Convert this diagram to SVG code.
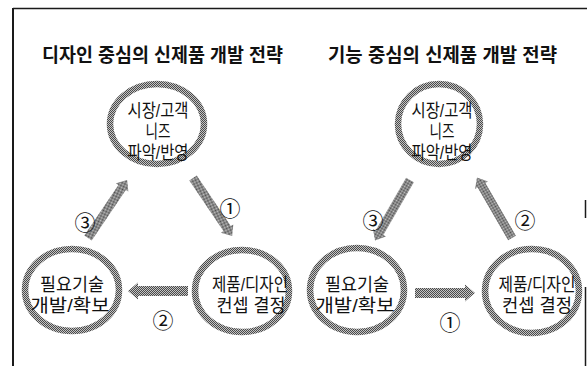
<svg xmlns="http://www.w3.org/2000/svg" xmlns:xlink="http://www.w3.org/1999/xlink" width="587" height="366" viewBox="0 0 587 366">
  <style>
    .ring { fill: none; stroke: url(#hatch); stroke-width: 6.5; }
    .arr { fill: url(#hatch); }
    .title { font-family: "Liberation Sans", "Noto Sans CJK KR", sans-serif; font-size: 19px; font-weight: bold; fill: #111; }
    .lbl { font-family: "Liberation Sans", "Noto Sans CJK KR", sans-serif; font-size: 18px; fill: #111; text-anchor: middle; }
    .num { font-family: "Noto Sans CJK KR", "DejaVu Sans", sans-serif; font-size: 21px; fill: #111; text-anchor: middle; }
    .frame { stroke: #1a1a1a; fill: none; }
  </style>
  <defs>
    <pattern id="hatch" width="2" height="2" patternUnits="userSpaceOnUse">
      <rect width="2" height="2" fill="#c4c4c4"/>
      <rect width="1" height="1" fill="#4a4a4a"/>
      <rect x="1" y="1" width="1" height="1" fill="#4a4a4a"/>
    </pattern>
    <path id="arrD" d="M0,-4.5 L61,-4.5 L61,-7.5 L70,0 L61,7.5 L61,4.5 L0,4.5 Z"/>
    <path id="arrH" d="M0,-5 L50,-5 L50,-8.5 L60,0 L50,8.5 L50,5 L0,5 Z"/>
  </defs>
  <rect width="587" height="366" fill="#ffffff"/>
  <g id="frame">
    <line class="frame" x1="13" y1="8.5" x2="587" y2="8.5" stroke-width="1.5"/>
    <line class="frame" x1="13" y1="8" x2="13" y2="366" stroke-width="2"/>
    <line class="frame" x1="585.5" y1="200" x2="585.5" y2="218" stroke-width="1.5"/>
    <line class="frame" x1="585.5" y1="287" x2="585.5" y2="366" stroke-width="1.5"/>
  </g>
  <g id="titles">
    <text class="title" x="42" y="62" textLength="241" lengthAdjust="spacingAndGlyphs">디자인 중심의 신제품 개발 전략</text>
    <text class="title" x="328" y="62" textLength="229" lengthAdjust="spacingAndGlyphs">기능 중심의 신제품 개발 전략</text>
  </g>
  <g id="connectors">
    <use href="#arrD" class="arr" transform="translate(193,178) rotate(56)"/>
    <use href="#arrH" class="arr" transform="translate(188,291) rotate(180)"/>
    <use href="#arrD" class="arr" transform="translate(88,238) rotate(-56)"/>
    <use href="#arrH" class="arr" transform="translate(415,293)"/>
    <use href="#arrD" class="arr" transform="translate(512,238) rotate(240)"/>
    <use href="#arrD" class="arr" transform="translate(410,180) rotate(120)"/>
    <text class="num" x="230" y="216">①</text>
    <text class="num" x="163" y="328">②</text>
    <text class="num" x="85" y="230">③</text>
    <text class="num" x="450" y="330">①</text>
    <text class="num" x="525" y="228">②</text>
    <text class="num" x="373" y="228">③</text>
  </g>
  <g id="L-market">
    <ellipse class="ring" cx="157" cy="124" rx="47" ry="40"/>
    <text class="lbl" x="158" y="117" textLength="61" lengthAdjust="spacingAndGlyphs">시장/고객</text>
    <text class="lbl" x="158" y="138" textLength="25" lengthAdjust="spacingAndGlyphs">니즈</text>
    <text class="lbl" x="158" y="159" textLength="61" lengthAdjust="spacingAndGlyphs">파악/반영</text>
  </g>
  <g id="L-tech">
    <ellipse class="ring" cx="72" cy="290" rx="47" ry="41"/>
    <text class="lbl" x="72" y="291" textLength="64" lengthAdjust="spacingAndGlyphs">필요기술</text>
    <text class="lbl" x="70" y="312" textLength="79" lengthAdjust="spacingAndGlyphs">개발/확보</text>
  </g>
  <g id="L-product">
    <ellipse class="ring" cx="242" cy="291" rx="47" ry="41"/>
    <text class="lbl" x="250" y="291" textLength="76" lengthAdjust="spacingAndGlyphs">제품/디자인</text>
    <text class="lbl" x="251" y="312" textLength="69" lengthAdjust="spacingAndGlyphs">컨셉 결정</text>
  </g>
  <g id="R-market">
    <ellipse class="ring" cx="439" cy="124" rx="41" ry="40"/>
    <text class="lbl" x="442" y="117" textLength="61" lengthAdjust="spacingAndGlyphs">시장/고객</text>
    <text class="lbl" x="442" y="138" textLength="25" lengthAdjust="spacingAndGlyphs">니즈</text>
    <text class="lbl" x="442" y="159" textLength="61" lengthAdjust="spacingAndGlyphs">파악/반영</text>
  </g>
  <g id="R-tech">
    <ellipse class="ring" cx="357" cy="290" rx="47" ry="42"/>
    <text class="lbl" x="357" y="291" textLength="64" lengthAdjust="spacingAndGlyphs">필요기술</text>
    <text class="lbl" x="355" y="312" textLength="79" lengthAdjust="spacingAndGlyphs">개발/확보</text>
  </g>
  <g id="R-product">
    <ellipse class="ring" cx="532" cy="291" rx="47" ry="42"/>
    <text class="lbl" x="537" y="291" textLength="77" lengthAdjust="spacingAndGlyphs">제품/디자인</text>
    <text class="lbl" x="537" y="312" textLength="70" lengthAdjust="spacingAndGlyphs">컨셉 결정</text>
  </g>
</svg>
